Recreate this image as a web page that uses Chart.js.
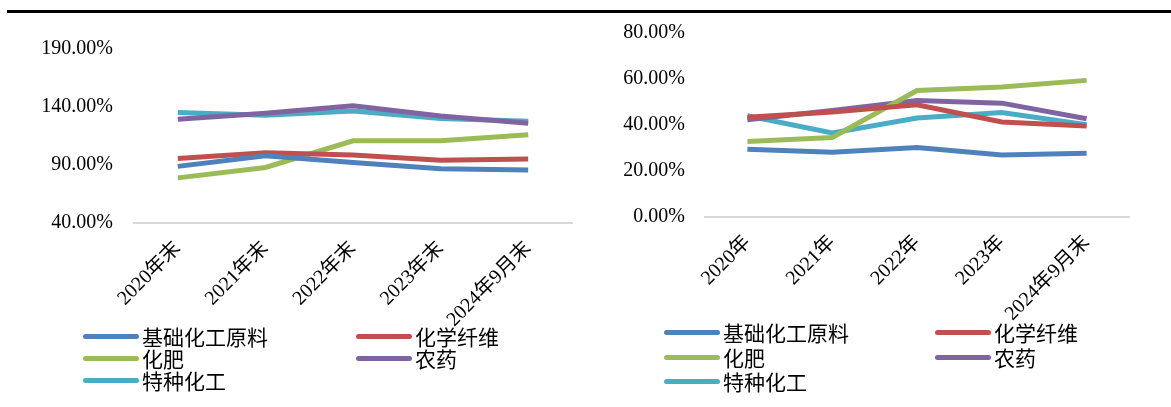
<!DOCTYPE html>
<html>
<head>
<meta charset="utf-8">
<script src="https://cdn.jsdelivr.net/npm/chart.js@4"></script>
<style>
  body { margin: 0; background: #fff; width: 1171px; height: 407px; overflow: hidden; position: relative; }
  .rule { position: absolute; left: 7px; right: 0; top: 10px; height: 3px; background: #000; }
  canvas { position: absolute; }
  .legend { position: absolute; font-family: "Liberation Serif", "Noto Sans CJK SC", serif; font-size: 21px; color: #000; }
  .item { position: absolute; display: flex; align-items: center; white-space: nowrap; height: 22px; }
  .swatch { width: 56px; height: 5px; border-radius: 3px; margin-right: 3px; }
</style>
</head>
<body>
<div class="rule"></div>
<canvas id="leftCanvas" width="590" height="330" style="left:0;top:0"></canvas>
<canvas id="rightCanvas" width="581" height="330" style="left:590px;top:0"></canvas>
<div class="legend" id="leftLegend"></div>
<div class="legend" id="rightLegend"></div>
<script>
// categories
const leftLabels = ["2020年末", "2021年末", "2022年末", "2023年末", "2024年9月末"];
const rightLabels = ["2020年", "2021年", "2022年", "2023年", "2024年9月末"];
const seriesNames = ["基础化工原料", "化学纤维", "化肥", "农药", "特种化工"];
const seriesColors = ["#4F81BD", "#C0504D", "#9BBB59", "#8064A2", "#4BACC6"];

// left chart values (%)
const leftBasic = [88.8, 98.0, 92.2, 86.7, 85.6];
const leftFiber = [95.7, 100.5, 98.6, 94.2, 95.1];
const leftFert = [78.9, 87.9, 110.9, 110.9, 116.1];
const leftPest = [129.4, 134.6, 141.0, 132.3, 126.0];
const leftSpecial = [135.3, 132.9, 136.6, 130.0, 127.7];

// right chart values (%)
const rightBasic = [29.5, 28.2, 30.2, 27.0, 27.7];
const rightFiber = [43.4, 45.6, 48.8, 41.3, 39.6];
const rightFert = [32.8, 34.6, 55.0, 56.5, 59.4];
const rightPest = [42.3, 46.3, 50.7, 49.5, 42.7];
const rightSpecial = [44.0, 36.5, 43.0, 45.4, 40.1];

// y axis ticks
const leftTicks = [40, 90, 140, 190];
const rightTicks = [0, 20, 40, 60, 80];

const tickFont = { family: "'Liberation Serif', 'Noto Sans CJK SC', serif", size: 20 };

function makeChart(canvas, labels, values, ticks, pad, yWidth, yPad, xHeight) {
    return new Chart(canvas, {
        type: "line",
        data: {
            labels: labels,
            datasets: values.map((v, i) => ({
                label: seriesNames[i],
                data: v,
                borderColor: seriesColors[i],
                backgroundColor: seriesColors[i],
                borderWidth: 5,
                pointRadius: 0,
                tension: 0,
                fill: false
            }))
        },
        options: {
            responsive: false,
            animation: false,
            devicePixelRatio: 1,
            layout: { padding: pad },
            plugins: { legend: { display: false }, tooltip: { enabled: false } },
            scales: {
                x: {
                    offset: true,
                    grid: { display: false, drawTicks: false },
                    border: { display: true, color: "#d9d9d9", width: 2 },
                    ticks: {
                        color: "#000",
                        font: tickFont,
                        minRotation: 45,
                        maxRotation: 45,
                        padding: 14
                    },
                    afterFit: s => { s.height = xHeight; }
                },
                y: {
                    min: ticks[0],
                    max: ticks[ticks.length - 1],
                    grid: { display: false, drawTicks: false },
                    border: { display: false },
                    afterBuildTicks: s => { s.ticks = ticks.map(t => ({ value: t })); },
                    ticks: {
                        color: "#000",
                        font: tickFont,
                        padding: yPad,
                        callback: v => v.toFixed(2) + "%"
                    },
                    afterFit: s => { s.width = yWidth; }
                }
            }
        }
    });
}

const leftChart = makeChart(document.getElementById("leftCanvas"), leftLabels,
    [leftBasic, leftFiber, leftFert, leftPest, leftSpecial], leftTicks,
    { top: 49, right: 18, left: 0, bottom: 0 }, 134, 21, 107);

const rightChart = makeChart(document.getElementById("rightCanvas"), rightLabels,
    [rightBasic, rightFiber, rightFert, rightPest, rightSpecial], rightTicks,
    { top: 33, right: 42, left: 0, bottom: 0 }, 115, 20, 113);

// legends built from the chart datasets, 2 columns like the original
function buildLegend(el, chart, cols, rows) {
    chart.data.datasets.forEach((ds, i) => {
        const item = document.createElement("div");
        item.className = "item";
        item.style.left = cols[i % 2] + "px";
        item.style.top = (rows[Math.floor(i / 2)] - 11) + "px";
        const sw = document.createElement("div");
        sw.className = "swatch";
        sw.style.background = ds.borderColor;
        item.appendChild(sw);
        item.appendChild(document.createTextNode(ds.label));
        el.appendChild(item);
    });
}
buildLegend(document.getElementById("leftLegend"), leftChart, [83, 356], [336, 358, 380]);
buildLegend(document.getElementById("rightLegend"), rightChart, [664, 935], [332, 357, 381]);
</script>
</body>
</html>
